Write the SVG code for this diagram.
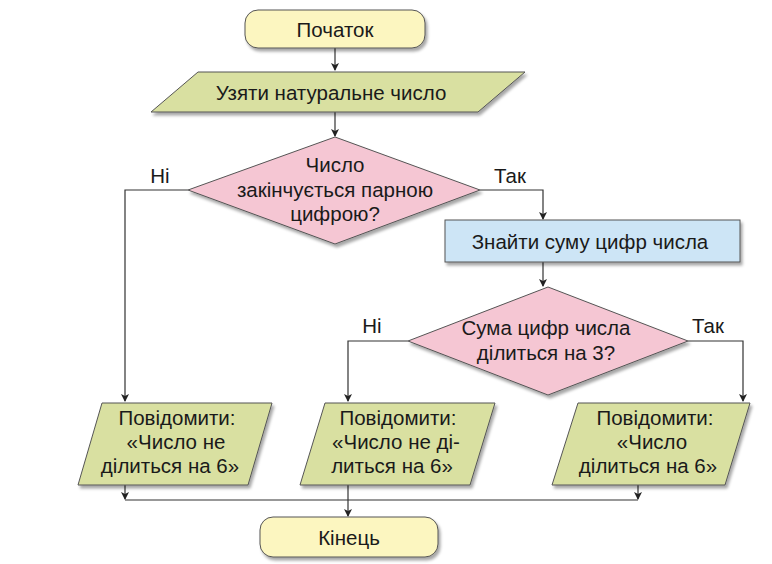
<svg xmlns="http://www.w3.org/2000/svg" width="772" height="564" viewBox="0 0 772 564">
<defs>
<marker id="a" markerWidth="8" markerHeight="10" refX="7" refY="5" orient="auto" markerUnits="userSpaceOnUse"><path d="M0,1 L8,5 L0,9 L2,5 Z" fill="#222"/></marker>
<filter id="s" x="-10%" y="-10%" width="130%" height="140%"><feDropShadow dx="2" dy="3" stdDeviation="1.5" flood-color="#000" flood-opacity="0.35"/></filter>
</defs>
<style>
text{font-family:"Liberation Sans",Arial,sans-serif;font-size:20.5px;fill:#1a1a1a;text-anchor:middle}
.sh{stroke:#555;stroke-width:1;filter:url(#s)}
.y{fill:#fcf6c0}.g{fill:#d9e0a1}.p{fill:#f5c6d3}.b{fill:#cde5f6}
.c{fill:none;stroke:#333;stroke-width:1.2}
</style>
<rect width="772" height="564" fill="#fff"/>
<g id="connectors">
<path class="c" d="M335,48 V70" marker-end="url(#a)"/>
<path class="c" d="M335,112 V136" marker-end="url(#a)"/>
<path class="c" d="M188,190 H125 V401" marker-end="url(#a)"/>
<path class="c" d="M480,190 H543 V219" marker-end="url(#a)"/>
<path class="c" d="M543,262 V286" marker-end="url(#a)"/>
<path class="c" d="M408,341 H348 V401" marker-end="url(#a)"/>
<path class="c" d="M688,341 H743 V401" marker-end="url(#a)"/>
<path class="c" d="M125,485 V499" marker-end="url(#a)"/>
<path class="c" d="M638,485 V499" marker-end="url(#a)"/>
<path class="c" d="M125,500 H638"/>
<path class="c" d="M348,485 V516" marker-end="url(#a)"/>
</g>
<g id="start"><rect class="sh y" x="245" y="10" width="180" height="38" rx="13"/><text x="335" y="37">Початок</text></g>
<g id="input"><polygon class="sh g" points="198,72 525,72 478,112 151,112"/><text x="331" y="100">Узяти натуральне число</text></g>
<g id="dec1"><polygon class="sh p" points="335,137 480,190 335,244 188,190"/><text x="335" y="172">Число</text><text x="335" y="197">закінчується парною</text><text x="335" y="221">цифрою?</text></g>
<text x="160" y="183">Ні</text><text x="510" y="183">Так</text>
<g id="sum"><rect class="sh b" x="445" y="220" width="295" height="42"/><text x="590" y="249">Знайти суму цифр числа</text></g>
<g id="dec2"><polygon class="sh p" points="548,287 688,341 548,395 408,341"/><text x="546" y="335">Сума цифр числа</text><text x="546" y="360">ділиться на 3?</text></g>
<text x="372" y="333">Ні</text><text x="708" y="333">Так</text>
<g id="out1"><polygon class="sh g" points="102,403 272,403 248,485 78,485"/><text x="177" y="425">Повідомити:</text><text x="176" y="449">«Число не</text><text x="170" y="473">ділиться на 6»</text></g>
<g id="out2"><polygon class="sh g" points="325,403 495,403 470,485 300,485"/><text x="398" y="425">Повідомити:</text><text x="396" y="449">«Число не ді-</text><text x="392" y="473">литься на 6»</text></g>
<g id="out3"><polygon class="sh g" points="578,403 750,403 725,485 552,485"/><text x="655" y="425">Повідомити:</text><text x="652" y="449">«Число</text><text x="648" y="473">ділиться на 6»</text></g>
<g id="end"><rect class="sh y" x="260" y="517" width="178" height="40" rx="13"/><text x="349" y="545">Кінець</text></g>
</svg>
